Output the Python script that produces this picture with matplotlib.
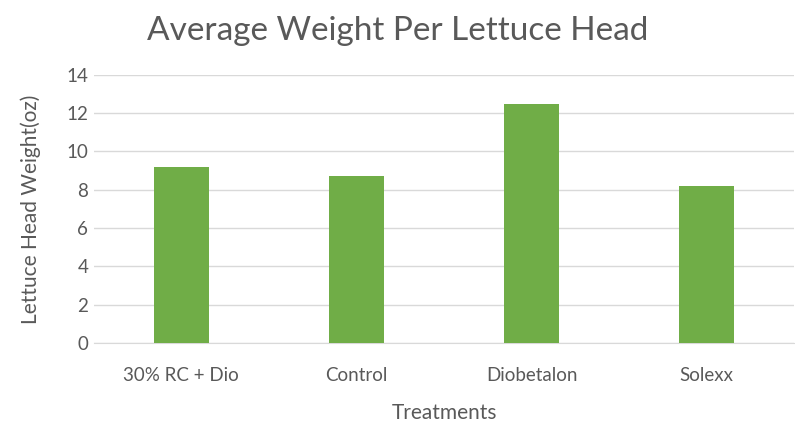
import matplotlib.pyplot as plt

treatments = ["30% RC + Dio", "Control", "Diobetalon", "Solexx"]
weights = [9.2, 8.72, 12.5, 8.2]
yticks = [0, 2, 4, 6, 8, 10, 12, 14]

plt.rcParams['font.family'] = ['Lato', 'DejaVu Sans']
grey = "#595959"

fig = plt.figure(figsize=(7.95, 4.25), dpi=100)
ax = fig.add_axes([0.118, 0.193, 0.881, 0.631])

x = range(len(treatments))
ax.bar(x, weights, width=0.315, color="#70ad47", zorder=3)

ax.set_xlim(-0.5, len(treatments) - 0.5)
ax.set_ylim(0, 14)
ax.set_yticks(yticks)
ax.set_xticks(list(x))
ax.set_xticklabels(treatments)
ax.grid(axis="y", color="#d9d9d9", linewidth=1, zorder=0)
for s in ["top", "right", "left"]:
    ax.spines[s].set_visible(False)
ax.spines["bottom"].set_color("#d9d9d9")
ax.tick_params(length=0, labelsize=13.5, colors=grey)
ax.tick_params(axis="x", pad=17)
ax.tick_params(axis="y", pad=4)

ax.set_xlabel("Treatments", fontsize=15, color=grey, labelpad=14)
ax.set_ylabel("Lettuce Head Weight(oz)", fontsize=15, color=grey, labelpad=18)
fig.text(0.5, 0.928, "Average Weight Per Lettuce Head", ha="center", va="center",
         fontsize=24, color=grey)

fig.savefig("out.png", dpi=100)
